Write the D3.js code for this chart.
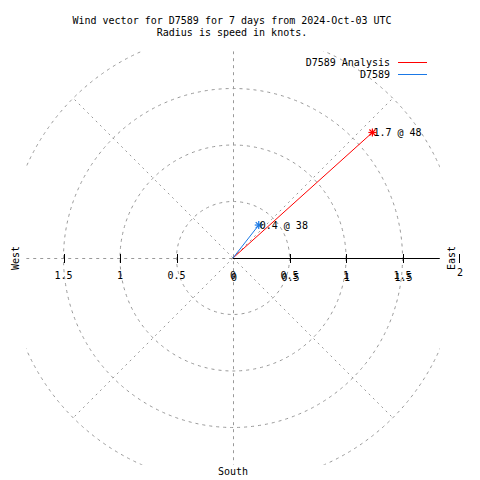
<!DOCTYPE html>
<html>
<head>
<meta charset="utf-8">
<script src="https://cdn.jsdelivr.net/npm/d3@7"></script>
<style>
html,body{margin:0;padding:0;background:#fff;}
svg text{font-family:"DejaVu Sans Mono","Liberation Mono",monospace;font-size:10px;fill:#000;}
</style>
</head>
<body>
<svg id="chart" width="480" height="480"></svg>
<script>
// ---- data ----
const titleLines = ["Wind vector for D7589 for 7 days from 2024-Oct-03 UTC", "Radius is speed in knots."];
const seriesNames = ["D7589 Analysis", "D7589"];
const seriesColors = ["#ff0000", "#1a78e6"];
const speeds = [1.66, 0.37];        // knots
const directions = [48, 38];        // degrees (compass, from north clockwise)
const ringValues = [0.5, 1, 1.5, 2];
const xTickValues = [-1.5, -1, -0.5, 0, 0.5, 1, 1.5];
const rTickValues = [0.5, 1, 1.5, 2];
const spokeAngles = [45, 135, 225, 315];

// ---- layout ----
const svg = d3.select("#chart");
const cx = 233, cy = 258;
const r = d3.scaleLinear().domain([0, 1]).range([0, 113]);
const x = d3.scaleLinear().domain([-1, 1]).range([cx - 113, cx + 113]);
const y = d3.scaleLinear().domain([-1, 1]).range([cy + 113, cy - 113]);
const lim = 1.83;
const plotL = x(-lim), plotR = x(lim), plotT = y(lim), plotB = y(-lim);
const grid = "#999999";

svg.append("defs").append("clipPath").attr("id", "plotclip")
  .append("rect").attr("x", plotL).attr("y", plotT)
  .attr("width", plotR - plotL).attr("height", plotB - plotT);

const g = svg.append("g").attr("clip-path", "url(#plotclip)");

// rings
g.selectAll("circle.ring").data(ringValues).join("circle")
  .attr("class", "ring").attr("cx", cx).attr("cy", cy)
  .attr("r", d => r(d)).attr("fill", "none")
  .attr("stroke", grid).attr("stroke-width", 1).attr("stroke-dasharray", "3,4");

// spokes
g.selectAll("line.spoke").data(spokeAngles).join("line")
  .attr("class", "spoke")
  .attr("x1", cx).attr("y1", cy)
  .attr("x2", d => cx + r(2) * Math.sin(d * Math.PI / 180))
  .attr("y2", d => cy - r(2) * Math.cos(d * Math.PI / 180))
  .attr("stroke", grid).attr("stroke-dasharray", "2,4");

// vertical axis grid
g.append("line").attr("x1", cx + 0.5).attr("x2", cx + 0.5).attr("y1", plotT).attr("y2", plotB)
  .attr("stroke", grid).attr("stroke-dasharray", "3,4");
// horizontal left grid
g.append("line").attr("x1", plotL).attr("x2", cx).attr("y1", cy + 0.5).attr("y2", cy + 0.5)
  .attr("stroke", grid).attr("stroke-dasharray", "3,4");
// polar axis (solid)
svg.append("line").attr("x1", cx).attr("x2", plotR).attr("y1", cy + 0.5).attr("y2", cy + 0.5)
  .attr("stroke", "#000").attr("stroke-width", 1);

// ticks
svg.selectAll("line.tick").data(xTickValues.filter(d => d !== 0).concat([2])).join("line")
  .attr("class", "tick")
  .attr("x1", d => Math.round(x(d)) + 0.5).attr("x2", d => Math.round(x(d)) + 0.5)
  .attr("y1", cy - 4).attr("y2", cy + 5)
  .attr("stroke", "#000");

// tick labels (x axis)
svg.selectAll("text.xt").data(xTickValues).join("text")
  .attr("class", "xt").attr("x", d => x(d)).attr("y", 279)
  .attr("text-anchor", "middle").text(d => String(Math.abs(d)));
// r-axis labels (overprinted, as in the reference)
svg.selectAll("text.rt").data([0].concat(rTickValues)).join("text")
  .attr("class", "rt").attr("x", d => x(d) + 1).attr("y", d => d === 2 ? 276 : 281)
  .attr("text-anchor", "middle").text(d => String(d));

// compass labels
svg.append("text").attr("transform", `translate(${x(0)},475)`).attr("text-anchor", "middle").text("South");
svg.append("text").attr("transform", `translate(19,${cy}) rotate(-90)`).attr("text-anchor", "middle").text("West");
svg.append("text").attr("transform", `translate(455,${cy}) rotate(-90)`).attr("text-anchor", "middle").text("East");

// title
svg.selectAll("text.title").data(titleLines).join("text")
  .attr("class", "title").attr("x", 232).attr("y", (d, i) => 24 + i * 12)
  .attr("text-anchor", "middle").text(d => d);

// vectors
const pts = speeds.map((s, i) => {
  const a = directions[i] * Math.PI / 180;
  return { i, s, dir: directions[i], px: cx + r(s) * Math.sin(a), py: cy - r(s) * Math.cos(a) };
});
svg.selectAll("line.vec").data(pts).join("line")
  .attr("class", "vec").attr("x1", cx).attr("y1", cy)
  .attr("x2", d => d.px).attr("y2", d => d.py)
  .attr("stroke", d => seriesColors[d.i]).attr("stroke-width", 1);

// star markers
const star = svg.selectAll("g.star").data(pts).join("g")
  .attr("class", "star").attr("transform", d => `translate(${d.px},${d.py})`)
  .attr("stroke", d => seriesColors[d.i]).attr("stroke-width", 1.2);
[[-4,0,4,0],[0,-4,0,4],[-3,-3,3,3],[-3,3,3,-3]].forEach(s => {
  star.append("line").attr("x1", s[0]).attr("y1", s[1]).attr("x2", s[2]).attr("y2", s[3]);
});

svg.selectAll("text.vl").data(pts).join("text")
  .attr("class", "vl").attr("x", d => d.px + 1).attr("y", d => d.py + 4)
  .text(d => `${d.s.toFixed(1)} @ ${d.dir}`);

// legend
const leg = svg.selectAll("g.leg").data(seriesNames).join("g")
  .attr("class", "leg").attr("transform", (d, i) => `translate(0,${66 + i * 12})`);
leg.append("text").attr("x", 390).attr("y", 0).attr("text-anchor", "end").text(d => d);
leg.append("line").attr("x1", 398).attr("x2", 427).attr("y1", -3.5).attr("y2", -3.5)
  .attr("stroke", (d, i) => seriesColors[i]).attr("stroke-width", 1);
</script>
</body>
</html>
